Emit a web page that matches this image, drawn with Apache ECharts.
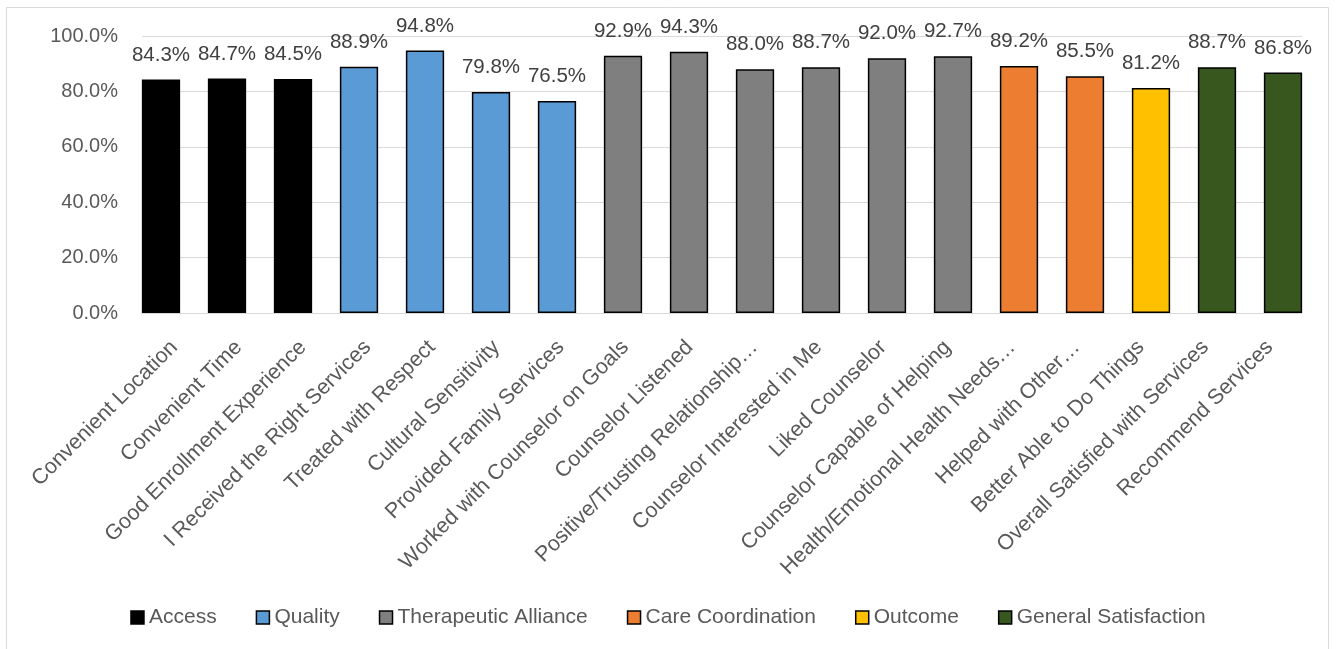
<!DOCTYPE html>
<html>
<head>
<meta charset="utf-8">
<script src="https://cdn.jsdelivr.net/npm/echarts@6/dist/echarts.min.js"></script>
<style>html,body{margin:0;padding:0;background:#fff}#c{width:1336px;height:649px}</style>
</head>
<body>
<div id="c"></div>
<script>
const categories = ['Convenient Location','Convenient Time','Good Enrollment Experience','I Received the Right Services','Treated with Respect','Cultural Sensitivity','Provided Family Services','Worked with Counselor on Goals','Counselor Listened','Positive/Trusting Relationship…','Counselor Interested in Me','Liked Counselor','Counselor Capable of Helping','Health/Emotional Health Needs…','Helped with Other…','Better Able to Do Things','Overall Satisfied with Services','Recommend Services'];
const values = [84.3,84.7,84.5,88.9,94.8,79.8,76.5,92.9,94.3,88.0,88.7,92.0,92.7,89.2,85.5,81.2,88.7,86.8];
const groupOf = ['Access','Access','Access','Quality','Quality','Quality','Quality','Therapeutic Alliance','Therapeutic Alliance','Therapeutic Alliance','Therapeutic Alliance','Therapeutic Alliance','Therapeutic Alliance','Care Coordination','Care Coordination','Outcome','General Satisfaction','General Satisfaction'];
const groupNames = ['Access','Quality','Therapeutic Alliance','Care Coordination','Outcome','General Satisfaction'];
const groupColors = ['#000000','#5B9BD5','#7F7F7F','#ED7D31','#FFC000','#38571F'];
const yTicks = [0,20,40,60,80,100];

const FONT = 'Liberation Sans';
const series = groupNames.map((g, gi) => ({
  name: g,
  type: 'bar',
  stack: 'all',
  xAxisIndex: 1,
  yAxisIndex: 1,
  barWidth: '58%',
  data: values.map((v, i) => groupOf[i] === g ? v : '-'),
  itemStyle: { color: groupColors[gi], borderColor: '#000', borderWidth: 1.5 },
  label: {
    show: true, position: 'top', distance: 14,
    fontFamily: FONT, fontSize: 20.5, color: '#404040',
    formatter: p => p.value.toFixed(1) + '%'
  }
}));

const chart = echarts.init(document.getElementById('c'), null, { renderer: 'canvas' });
chart.setOption({
  animation: false,
  backgroundColor: '#fff',
  textStyle: { fontFamily: FONT },
  graphic: [{
    type: 'rect', shape: { x: 6.5, y: 7.5, width: 1322, height: 700 },
    style: { fill: 'none', stroke: '#d9d9d9', lineWidth: 1 }, silent: true
  }],
  grid: [
    { left: 142, right: 34, top: 36, bottom: 336, containLabel: false },
    { left: 128, right: 20, top: 36, bottom: 336, containLabel: false }
  ],
  legend: {
    data: groupNames, top: 602, left: 'center', itemGap: 39,
    itemWidth: 13, itemHeight: 13, icon: 'rect',
    itemStyle: { borderColor: '#000', borderWidth: 1.5 },
    textStyle: { fontFamily: FONT, fontSize: 21, color: '#595959' }
  },
  xAxis: [{
    type: 'category', data: categories, gridIndex: 0,
    axisLine: { lineStyle: { color: '#d9d9d9', width: 1 } },
    axisTick: { show: false },
    axisLabel: { interval: 0, rotate: 45, fontFamily: FONT, fontSize: 21.5, color: '#595959', margin: 31 }
  }, {
    type: 'category', data: categories, gridIndex: 1,
    axisLine: { show: false }, axisTick: { show: false }, axisLabel: { show: false }
  }],
  yAxis: [{
    type: 'value', gridIndex: 0, min: yTicks[0], max: yTicks[yTicks.length - 1], interval: 20,
    axisLine: { show: false }, axisTick: { show: false },
    splitLine: { lineStyle: { color: '#d9d9d9', width: 1 } },
    axisLabel: { fontFamily: FONT, fontSize: 20, color: '#595959', margin: 24, formatter: v => v.toFixed(1) + '%' }
  }, {
    type: 'value', gridIndex: 1, min: yTicks[0], max: yTicks[yTicks.length - 1], interval: 20,
    axisLine: { show: false }, axisTick: { show: false }, splitLine: { show: false }, axisLabel: { show: false }
  }],
  series: series
});
</script>
</body>
</html>
